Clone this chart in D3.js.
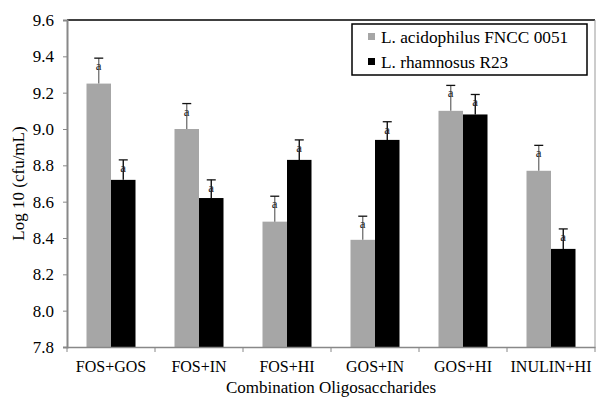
<!DOCTYPE html>
<html>
<head>
<meta charset="utf-8">
<script src="https://cdn.jsdelivr.net/npm/d3@7"></script>
<style>
  body { margin: 0; background: #fff; }
  svg { display: block; font-family: "Liberation Serif", "Times New Roman", serif; }
</style>
</head>
<body>
<svg width="596" height="397"></svg>
<script>
const categories = ['FOS+GOS', 'FOS+IN', 'FOS+HI', 'GOS+IN', 'GOS+HI', 'INULIN+HI']
const seriesNames = ['L. acidophilus FNCC 0051', 'L. rhamnosus R23']
const acidophilus = [9.25, 9.00, 8.49, 8.39, 9.10, 8.77]
const acidophilusErr = [0.14, 0.14, 0.14, 0.13, 0.14, 0.14]
const rhamnosus = [8.72, 8.62, 8.83, 8.94, 9.08, 8.34]
const rhamnosusErr = [0.11, 0.10, 0.11, 0.10, 0.11, 0.11]
const letters = ['a', 'a', 'a', 'a', 'a', 'a']
const yTicks = [7.8, 8.0, 8.2, 8.4, 8.6, 8.8, 9.0, 9.2, 9.4, 9.6]

const colors = ['#a6a6a6', '#000000']
const errColors = ['#6f6f6f', '#000000']

const margin = {top: 20, right: 1, bottom: 50, left: 67}
const width = 596 - margin.left - margin.right
const height = 397 - margin.top - margin.bottom

let svg = d3.select('svg')
let g = svg.append('g')
	.attr('transform', `translate(${margin.left}, ${margin.top})`)

let x0 = d3.scaleBand().domain(categories).range([0, width])
let x1 = d3.scaleBand().domain([0, 1]).range([0, 49])
let y = d3.scaleLinear().domain([7.8, 9.6]).range([height, 0])

let rows = categories.map((c, i) => ({
	cat: c,
	vals: [
		{s: 0, v: acidophilus[i], e: acidophilusErr[i], l: letters[i]},
		{s: 1, v: rhamnosus[i], e: rhamnosusErr[i], l: letters[i]}
	]
}))

let groups = g.selectAll('.grp')
	.data(rows)
	.enter().append('g')
	.attr('class', 'grp')
	.attr('transform', d => `translate(${x0(d.cat) + (x0.bandwidth() - 49) / 2}, 0)`)

let items = groups.selectAll('.item')
	.data(d => d.vals)
	.enter().append('g')

items.append('rect')
	.attr('x', d => x1(d.s))
	.attr('width', x1.bandwidth())
	.attr('y', d => y(d.v))
	.attr('height', d => height - y(d.v))
	.attr('fill', d => colors[d.s])

// error bars (upper only)
items.append('line')
	.attr('x1', d => x1(d.s) + x1.bandwidth() / 2)
	.attr('x2', d => x1(d.s) + x1.bandwidth() / 2)
	.attr('y1', d => y(d.v))
	.attr('y2', d => y(d.v + d.e))
	.attr('stroke', d => errColors[d.s])
	.attr('stroke-width', 1.3)

items.append('line')
	.attr('x1', d => x1(d.s) + x1.bandwidth() / 2 - 4.5)
	.attr('x2', d => x1(d.s) + x1.bandwidth() / 2 + 4.5)
	.attr('y1', d => y(d.v + d.e))
	.attr('y2', d => y(d.v + d.e))
	.attr('stroke', '#111')
	.attr('stroke-width', 1.3)

items.append('text')
	.attr('x', d => x1(d.s) + x1.bandwidth() / 2)
	.attr('y', d => y(d.v + d.e) + 12)
	.attr('text-anchor', 'middle')
	.attr('font-size', 13)
	.attr('fill', '#222')
	.text(d => d.l)

// frame: top black, right gray
g.append('line')
	.attr('x1', 0).attr('x2', width)
	.attr('y1', 0).attr('y2', 0)
	.attr('stroke', '#000').attr('stroke-width', 1.5)
g.append('line')
	.attr('x1', width).attr('x2', width)
	.attr('y1', 0).attr('y2', height)
	.attr('stroke', '#999').attr('stroke-width', 1)

// axes
let leftAxisG = g.append('g')
	.call(d3.axisLeft(y).tickValues(yTicks).tickFormat(d3.format('.1f')).tickSize(4).tickPadding(9))
leftAxisG.select('.domain').attr('stroke', '#888').attr('stroke-width', 2)
leftAxisG.selectAll('.tick line').attr('stroke', '#888')
leftAxisG.selectAll('text')
	.attr('font-family', '"Liberation Serif", serif')
	.attr('font-size', 17)
	.attr('fill', '#000')

let bottomAxisG = g.append('g')
	.attr('transform', `translate(0, ${height})`)
	.call(d3.axisBottom(x0).tickSize(0).tickPadding(14))
bottomAxisG.select('.domain').attr('stroke', '#888').attr('stroke-width', 1.5)
bottomAxisG.selectAll('text')
	.attr('font-family', '"Liberation Serif", serif')
	.attr('font-size', 16)
	.attr('fill', '#000')

// category boundary ticks
let bounds = categories.map(c => x0(c)).concat([width])
bottomAxisG.selectAll('.bt')
	.data(bounds)
	.enter().append('line')
	.attr('x1', d => d).attr('x2', d => d)
	.attr('y1', 0).attr('y2', 5)
	.attr('stroke', '#888')

// axis titles
svg.append('text')
	.attr('transform', `translate(24, ${margin.top + height / 2}) rotate(-90)`)
	.attr('text-anchor', 'middle')
	.attr('font-size', 17)
	.text('Log 10 (cfu/mL)')

svg.append('text')
	.attr('x', margin.left + width / 2)
	.attr('y', 393)
	.attr('text-anchor', 'middle')
	.attr('font-size', 17)
	.text('Combination Oligosaccharides')

// legend
let legend = svg.append('g').attr('transform', 'translate(352, 24)')
legend.append('rect')
	.attr('width', 235).attr('height', 51)
	.attr('fill', '#fff').attr('stroke', '#000').attr('stroke-width', 1.5)
let li = legend.selectAll('.li')
	.data(seriesNames)
	.enter().append('g')
	.attr('transform', (d, i) => `translate(16, ${19 + i * 25})`)
li.append('rect')
	.attr('x', 0).attr('y', -10)
	.attr('width', 7).attr('height', 7)
	.attr('fill', (d, i) => colors[i])
li.append('text')
	.attr('x', 13).attr('y', 0)
	.attr('font-size', 17.3)
	.text(d => d)
</script>
</body>
</html>
